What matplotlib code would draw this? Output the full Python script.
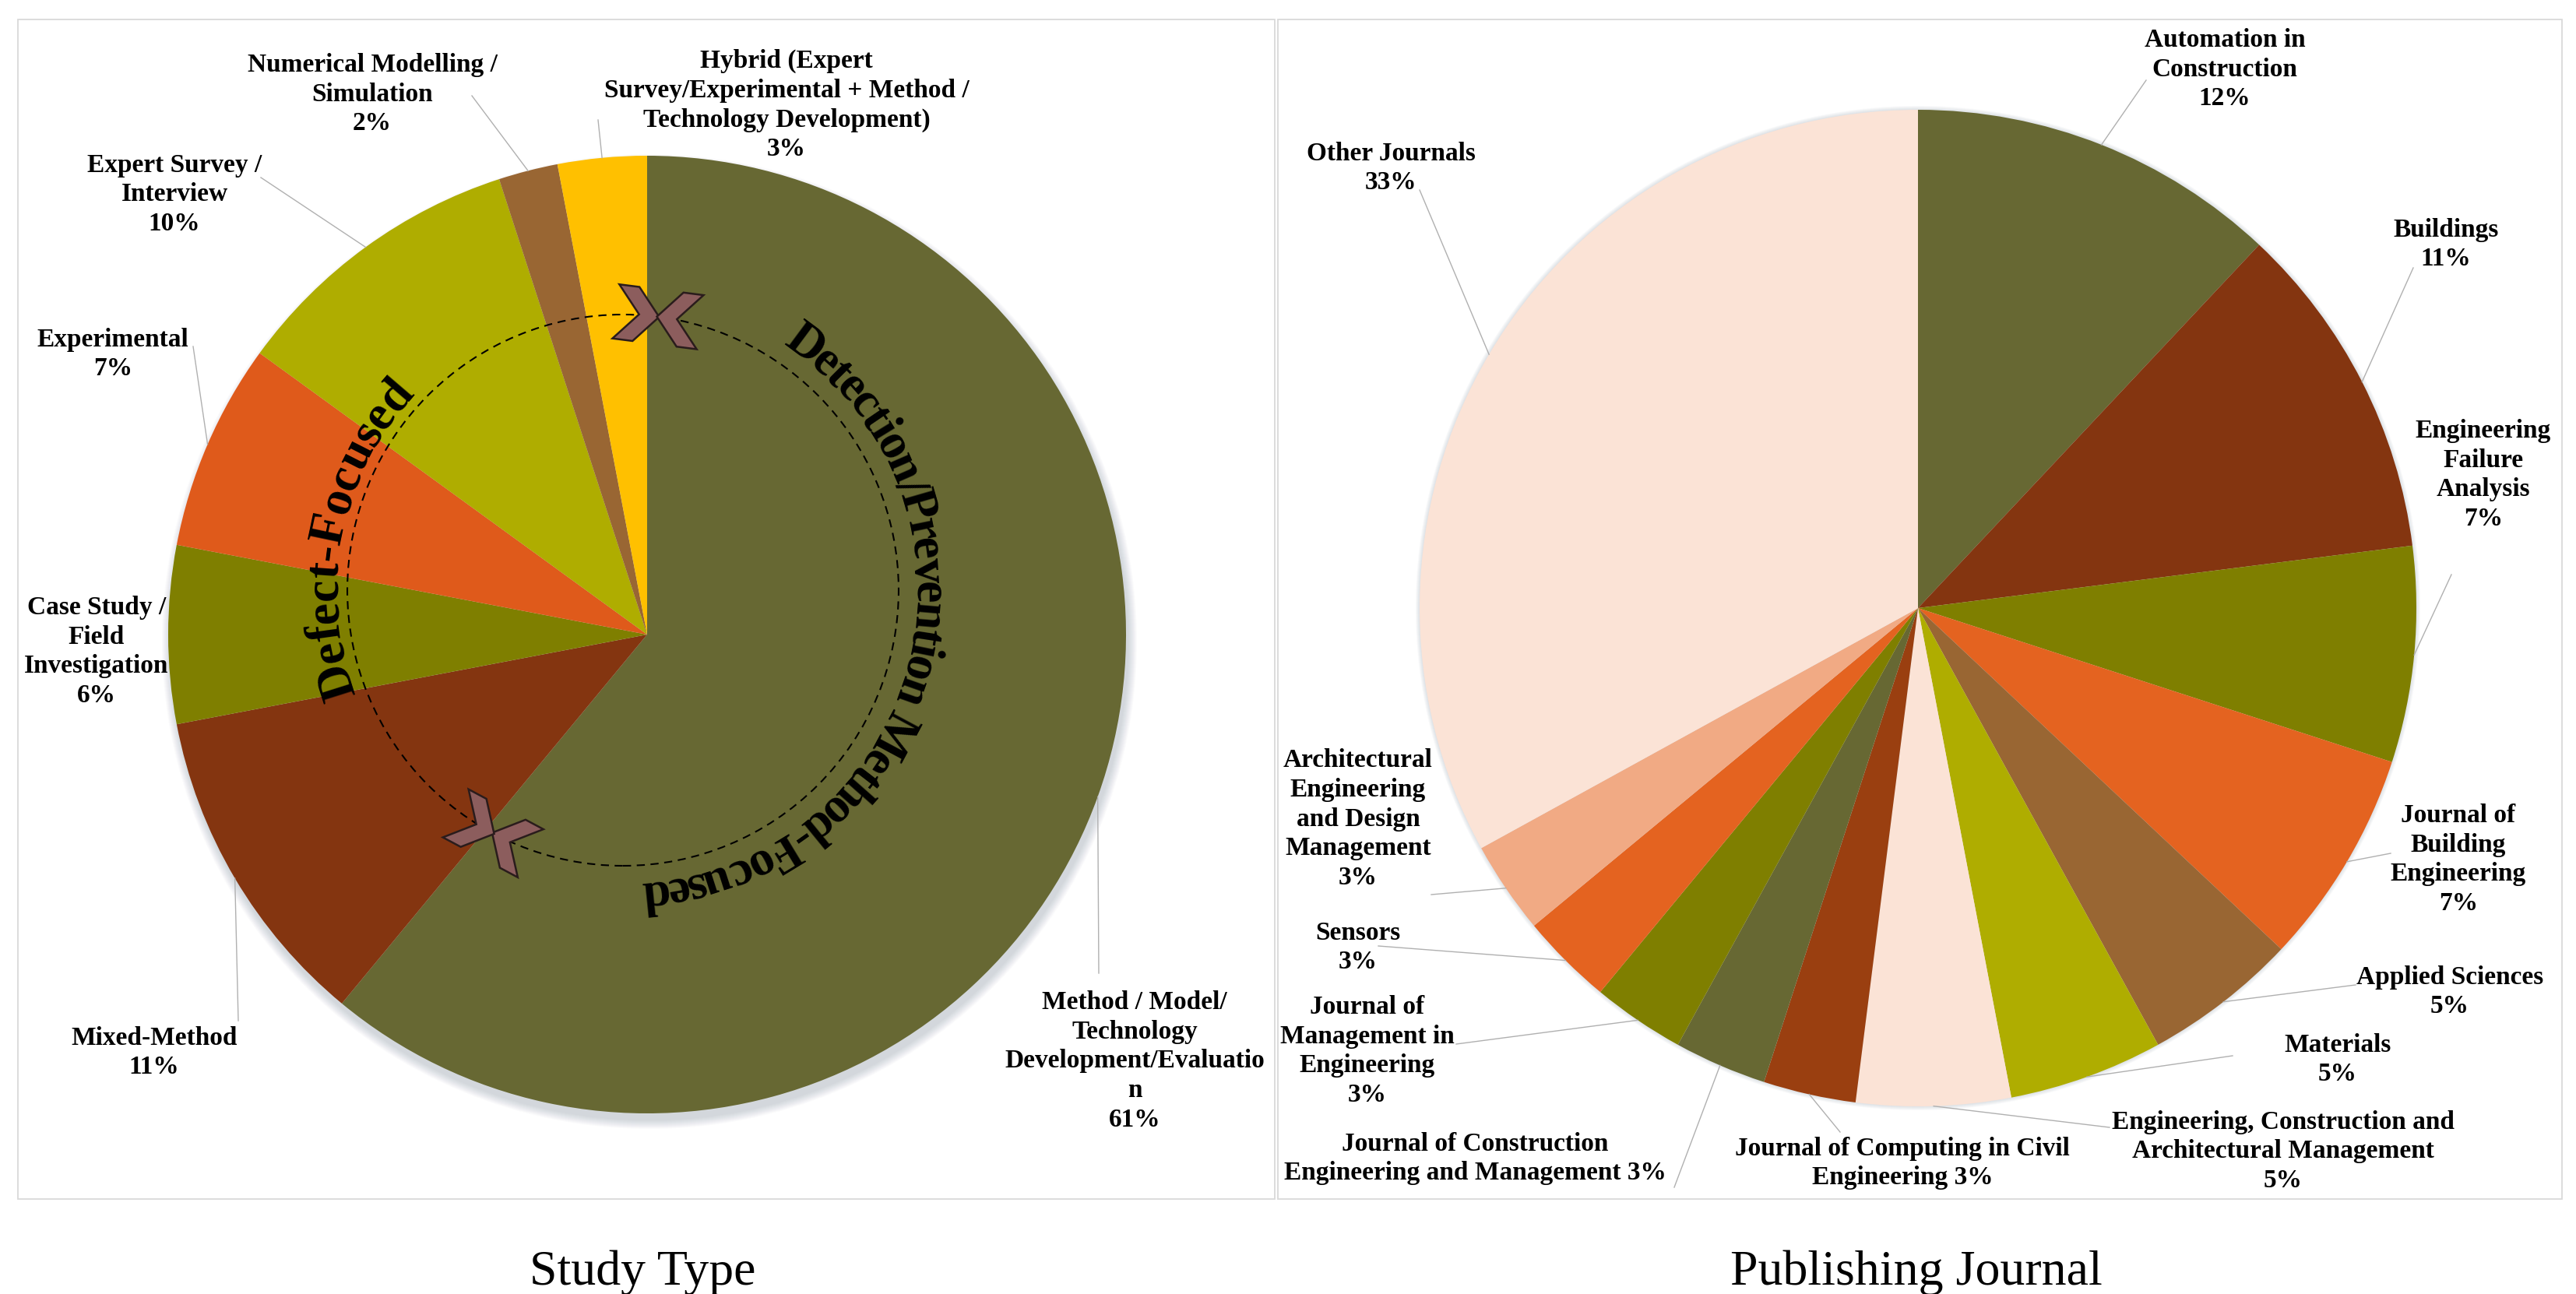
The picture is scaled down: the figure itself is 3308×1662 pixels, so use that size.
import numpy as np
import matplotlib
matplotlib.use("Agg")
import matplotlib.pyplot as plt
from matplotlib.patches import Circle, Polygon, Rectangle
from matplotlib.font_manager import FontProperties
from matplotlib.textpath import TextToPath

W, H = 3308, 1662

# ---- data: study type ----
study_types = ["Method / Model/\nTechnology\nDevelopment/Evaluatio\nn",
               "Mixed-Method",
               "Case Study /\nField\nInvestigation",
               "Experimental",
               "Expert Survey /\nInterview",
               "Numerical Modelling /\nSimulation",
               "Hybrid (Expert\nSurvey/Experimental + Method /\nTechnology Development)"]
study_pct = [61, 11, 6, 7, 10, 2, 3]
study_colors = ["#676833", "#843510", "#7f7f00", "#df5a1b", "#afad00", "#996633", "#ffc000"]

# ---- data: publishing journal ----
journals = ["Automation in\nConstruction",
            "Buildings",
            "Engineering\nFailure\nAnalysis",
            "Journal of\nBuilding\nEngineering",
            "Applied Sciences",
            "Materials",
            "Engineering, Construction and\nArchitectural Management",
            "Journal of Computing in Civil\nEngineering",
            "Journal of Construction\nEngineering and Management",
            "Journal of\nManagement in\nEngineering",
            "Sensors",
            "Architectural\nEngineering\nand Design\nManagement",
            "Other Journals"]
journal_pct = [12, 11, 7, 7, 5, 5, 5, 3, 3, 3, 3, 3, 33]
journal_colors = ["#676833", "#843510", "#7f7f00", "#e46320", "#996633", "#afad00", "#fbe3d6",
                  "#9a3f10", "#676833", "#7f7f00", "#e46320", "#f1aa84", "#fbe3d6"]
pct_same_line = ["Journal of Computing in Civil\nEngineering",
                 "Journal of Construction\nEngineering and Management"]

arc_left_text = "Defect-Focused"
arc_right_text = "Detection/Prevention Method-Focused"

# ---- layout (image pixel coords, y measured from top) ----
lc, lr = (831, 815), 615
rc, rr = (2463, 781), 640
lab_l = [(1457, 1363), (198, 1352), (124, 837), (145, 455), (224, 250), (478, 121), (1010, 135)]
lead_l = [(1411, 1250), (306, 1311), None, (248, 445), (335, 228), (606, 123), (768, 154)]
lab_r = [(2857, 89), (3141, 314), (3189, 610), (3157, 1104), (3146, 1274), (3002, 1361),
         (2932, 1479), (2443, 1494), (1894, 1488), (1756, 1350), (1744, 1217), (1744, 1052), (1786, 216)]
lead_r = [(2756, 103), (3099, 344), (3148, 738), (3070, 1096), (3025, 1265), (2867, 1356),
          (2709, 1448), (2363, 1454), (2150, 1525), (1870, 1341), (1770, 1215), (1838, 1149), (1823, 244)]


def up(p):
    return (p[0], H - p[1])


lab_font = FontProperties(family="Liberation Serif", weight="bold", size=24)
arc_font = FontProperties(family="Liberation Serif", weight="bold", size=46)
title_font = FontProperties(family="Liberation Serif", size=46)

fig = plt.figure(figsize=(W / 100, H / 100), dpi=100)
ax = fig.add_axes([0, 0, 1, 1])

# panel frames
ax.add_patch(Rectangle((23, H - 1540), 1614, 1515, fill=False, ec="#d9d9d9", lw=1.3, zorder=0))
ax.add_patch(Rectangle((1641, H - 1540), 1649, 1515, fill=False, ec="#d9d9d9", lw=1.3, zorder=0))

# soft shadows
cl = up(lc)
for i in range(12):
    ax.add_patch(Circle((cl[0] + 3, cl[1] - 9), lr + i, color="#8090a0", alpha=0.03, lw=0, zorder=0.5))
cr = up(rc)
for i in range(6):
    ax.add_patch(Circle(cr, rr + i, color="#8595a5", alpha=0.05, lw=0, zorder=0.5))


def draw_pie(vals, colors, names, center, radius, labs, leads):
    wedges, _ = ax.pie(vals, colors=colors, startangle=90, counterclock=False,
                       center=center, radius=radius, wedgeprops=dict(linewidth=0))
    for w, v, name, lp, ld in zip(wedges, vals, names, labs, leads):
        sep = " " if name in pct_same_line else "\n"
        lx, ly = up(lp)
        ax.text(lx, ly, f"{name}{sep}{v}%", ha="center", va="center",
                fontproperties=lab_font, linespacing=1.28, zorder=5)
        if ld is None:
            continue
        mid = np.deg2rad((w.theta1 + w.theta2) / 2)
        sx, sy = center[0] + radius * np.cos(mid), center[1] + radius * np.sin(mid)
        ex, ey = up(ld)
        ax.plot([sx, ex], [sy, ey], color="#b0b0b0", lw=1.0, zorder=4)


draw_pie(study_pct, study_colors, study_types, cl, lr, lab_l, lead_l)
draw_pie(journal_pct, journal_colors, journals, cr, rr, lab_r, lead_r)

# dashed guide circle with curved captions
dc, drad = up((800, 758)), 354
ax.add_patch(Circle(dc, drad, fill=False, ec="black", lw=1.5, ls=(0, (5, 3.5)), zorder=3))

ttp = TextToPath()


def ink_w(s):
    if not s.strip():
        return 0.0
    return ttp.get_text_width_height_descent(s, arc_font, ismath=False)[0]


def arc_text(s, r, a0, a1):
    cen = np.array([ink_w(s[:i + 1]) - ink_w(s[i]) / 2 for i in range(len(s))])
    frac = (cen - cen[0]) / (cen[-1] - cen[0])
    for ch, f in zip(s, frac):
        if ch == " ":
            continue
        a = a0 + f * (a1 - a0)
        x = dc[0] + r * np.cos(np.deg2rad(a))
        y = dc[1] + r * np.sin(np.deg2rad(a))
        ax.text(x, y, ch, rotation=a - 90, rotation_mode="anchor", ha="center", va="baseline",
                fontproperties=arc_font, zorder=6)


arc_text(arc_left_text, 368, 197.5, 139.4)
arc_text(arc_right_text, 376, 53.4, -84.2)


def chevrons(theta):
    t = np.deg2rad(theta)
    p = np.array([dc[0] + drad * np.cos(t), dc[1] + drad * np.sin(t)])
    u = np.array([np.sin(t), -np.cos(t)])
    n = np.array([np.cos(t), np.sin(t)])
    a, th, h = 30, 26, 35
    local = [(0, 0), (-a, h), (-a - th, h), (-th, 0), (-a - th, -h), (-a, -h)]
    for d in (u, -u):
        pts = [p + (lx + 1.5) * d + ly * n for lx, ly in local]
        ax.add_patch(Polygon(pts, closed=True, fc="#8c5d5d", ec="#2a1c1c", lw=1.8,
                             joinstyle="miter", zorder=4))


chevrons(82.7)
chevrons(241.9)

ax.text(825, H - 1650, "Study Type", ha="center", va="baseline", fontproperties=title_font)
ax.text(2461, H - 1650, "Publishing Journal", ha="center", va="baseline", fontproperties=title_font)

ax.set_xlim(0, W)
ax.set_ylim(0, H)
ax.set_aspect("equal")
ax.axis("off")
fig.savefig("out.png", dpi=100, facecolor="white")
